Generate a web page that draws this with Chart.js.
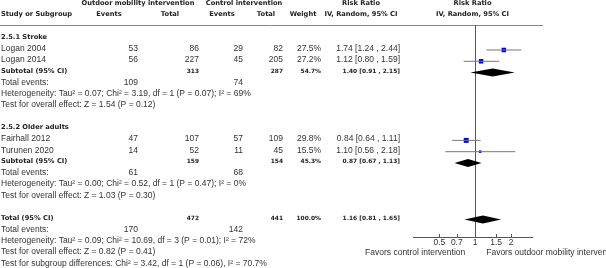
<!DOCTYPE html>
<html>
<head>
<meta charset="utf-8">
<script src="https://cdn.jsdelivr.net/npm/chart.js@4.4.0/dist/chart.umd.min.js"></script>
<style>
  html, body { margin: 0; padding: 0; background: #fff; }
  #wrap { width: 606px; height: 268px; position: relative; }
</style>
</head>
<body>
<div id="wrap"><canvas id="forest"></canvas></div>
<script>
// study level data
const studies = ["Logan 2004", "Logan 2014", "Fairhall 2012", "Turunen 2020"];
const studyRows = [1, 2, 9, 10];
const expEvents = [53, 56, 47, 14];
const expTotal = [86, 227, 107, 52];
const ctlEvents = [29, 45, 57, 11];
const ctlTotal = [82, 205, 109, 45];
const weights = [27.5, 27.2, 29.8, 15.5];
const rr = [1.74, 1.12, 0.84, 1.10];
const rrLow = [1.24, 0.80, 0.64, 0.56];
const rrHigh = [2.44, 1.59, 1.11, 2.18];

// subgroups
const subgroups = ["2.5.1 Stroke", "2.5.2 Older adults"];
const subgroupRows = [0, 8];
const subRows = [3, 11];
const subExpTotal = [313, 159];
const subCtlTotal = [287, 154];
const subExpEvents = [109, 61];
const subCtlEvents = [74, 68];
const subWeight = [54.7, 45.3];
const subRR = [1.40, 0.87];
const subLow = [0.91, 0.67];
const subHigh = [2.15, 1.13];
const subHet = [
  "Heterogeneity: Tau\u00b2 = 0.07; Chi\u00b2 = 3.19, df = 1 (P = 0.07); I\u00b2 = 69%",
  "Heterogeneity: Tau\u00b2 = 0.00; Chi\u00b2 = 0.52, df = 1 (P = 0.47); I\u00b2 = 0%"
];
const subTest = [
  "Test for overall effect: Z = 1.54 (P = 0.12)",
  "Test for overall effect: Z = 1.03 (P = 0.30)"
];

// overall
const totalRow = 16;
const totalExp = 472, totalCtl = 441, totalWeight = 100.0;
const totalRR = 1.16, totalLow = 0.81, totalHigh = 1.65;
const totalExpEvents = 170, totalCtlEvents = 142;
const totalHet = "Heterogeneity: Tau\u00b2 = 0.09; Chi\u00b2 = 10.69, df = 3 (P = 0.01); I\u00b2 = 72%";
const totalTest = "Test for overall effect: Z = 0.82 (P = 0.41)";
const subgroupDiff = "Test for subgroup differences: Chi\u00b2 = 3.42, df = 1 (P = 0.06), I\u00b2 = 70.7%";

const tickVals = [0.5, 0.7, 1, 1.5, 2];
const leftFavors = "Favors control intervention";
const rightFavors = "Favors outdoor mobility intervention";

const REG = '8.5px "Liberation Sans"';
const BOLD = 'bold 6.7px "DejaVu Sans"';
const BOLDNUM = 'bold 5.9px "DejaVu Sans"';
const fmt = v => v.toFixed(2);
const ciText = (e, l, h) => `${fmt(e)} [${fmt(l)} , ${fmt(h)}]`;

const forestPlugin = {
  id: "forest",
  beforeDatasetsDraw(chart) {
    const { ctx, chartArea: ca, scales: { x } } = chart;
    ctx.save();
    ctx.strokeStyle = "#888";
    ctx.lineWidth = 1;
    ctx.beginPath();
    ctx.moveTo(0, ca.top + 0.5);
    ctx.lineTo(543, ca.top + 0.5);
    ctx.stroke();
    // line of no effect
    const x1 = Math.round(x.getPixelForValue(1)) + 0.5;
    ctx.strokeStyle = "#555";
    ctx.beginPath();
    ctx.moveTo(x1, ca.top);
    ctx.lineTo(x1, ca.bottom);
    ctx.stroke();
    ctx.restore();
  },
  afterDatasetsDraw(chart) {
    const { ctx, chartArea: ca, scales: { x, y } } = chart;
    ctx.save();
    const diamond = (e, l, h, row) => {
      const cy = y.getPixelForValue(row);
      ctx.beginPath();
      ctx.moveTo(x.getPixelForValue(l), cy);
      ctx.lineTo(x.getPixelForValue(e), cy - 4);
      ctx.lineTo(x.getPixelForValue(h), cy);
      ctx.lineTo(x.getPixelForValue(e), cy + 4);
      ctx.closePath();
      ctx.fillStyle = "#000";
      ctx.fill();
    };
    subRows.forEach((r, i) => diamond(subRR[i], subLow[i], subHigh[i], r));
    diamond(totalRR, totalLow, totalHigh, totalRow);

    // tick marks above the axis line
    ctx.strokeStyle = "#555";
    ctx.lineWidth = 1;
    tickVals.forEach(v => {
      const px = Math.round(x.getPixelForValue(v)) + 0.5;
      ctx.beginPath();
      ctx.moveTo(px, ca.bottom - 3);
      ctx.lineTo(px, ca.bottom);
      ctx.stroke();
    });
    ctx.restore();
  },
  afterDraw(chart) {
    const { ctx, chartArea: ca, scales: { x, y } } = chart;
    const rowY = r => y.getPixelForValue(r) - 1.5;
    ctx.save();
    ctx.textBaseline = "middle";
    const draw = (s, px, py, align, font, color) => {
      ctx.font = font;
      ctx.fillStyle = color || "#333";
      ctx.textAlign = align;
      ctx.fillText(s, px, py);
    };
    const put = (s, px, row, align, font, color) => draw(s, px, rowY(row), align, font, color);
    const plotMid = (ca.left + ca.right) / 2;

    // headers
    put("Outdoor mobility intervention", 138, -3, "center", BOLD, "#222");
    put("Control intervention", 244, -3, "center", BOLD, "#222");
    put("Risk Ratio", 361, -3, "center", BOLD, "#222");
    put("Risk Ratio", plotMid, -3, "center", BOLD, "#222");
    put("Study or Subgroup", 1, -2, "left", BOLD, "#222");
    put("Events", 109, -2, "center", BOLD, "#222");
    put("Total", 170, -2, "center", BOLD, "#222");
    put("Events", 222, -2, "center", BOLD, "#222");
    put("Total", 266, -2, "center", BOLD, "#222");
    put("Weight", 303, -2, "center", BOLD, "#222");
    put("IV, Random, 95% CI", 361, -2, "center", BOLD, "#222");
    put("IV, Random, 95% CI", plotMid, -2, "center", BOLD, "#222");

    // studies
    studies.forEach((s, i) => {
      const r = studyRows[i];
      put(s, 1, r, "left", REG);
      put(String(expEvents[i]), 138, r, "right", REG);
      put(String(expTotal[i]), 199, r, "right", REG);
      put(String(ctlEvents[i]), 243, r, "right", REG);
      put(String(ctlTotal[i]), 283, r, "right", REG);
      put(weights[i].toFixed(1) + "%", 321, r, "right", REG);
      put(ciText(rr[i], rrLow[i], rrHigh[i]), 400, r, "right", REG);
    });

    // subgroups
    subgroups.forEach((g, i) => {
      const r = subRows[i];
      put(g, 1, subgroupRows[i], "left", BOLD, "#222");
      put("Subtotal (95% CI)", 1, r, "left", BOLD, "#222");
      put(String(subExpTotal[i]), 199, r, "right", BOLDNUM, "#222");
      put(String(subCtlTotal[i]), 283, r, "right", BOLDNUM, "#222");
      put(subWeight[i].toFixed(1) + "%", 321, r, "right", BOLDNUM, "#222");
      put(ciText(subRR[i], subLow[i], subHigh[i]), 400, r, "right", BOLDNUM, "#222");
      put("Total events:", 1, r + 1, "left", REG);
      put(String(subExpEvents[i]), 138, r + 1, "right", REG);
      put(String(subCtlEvents[i]), 243, r + 1, "right", REG);
      put(subHet[i], 1, r + 2, "left", REG);
      put(subTest[i], 1, r + 3, "left", REG);
    });

    // overall
    put("Total (95% CI)", 1, totalRow, "left", BOLD, "#222");
    put(String(totalExp), 199, totalRow, "right", BOLDNUM, "#222");
    put(String(totalCtl), 283, totalRow, "right", BOLDNUM, "#222");
    put(totalWeight.toFixed(1) + "%", 321, totalRow, "right", BOLDNUM, "#222");
    put(ciText(totalRR, totalLow, totalHigh), 400, totalRow, "right", BOLDNUM, "#222");
    put("Total events:", 1, totalRow + 1, "left", REG);
    put(String(totalExpEvents), 138, totalRow + 1, "right", REG);
    put(String(totalCtlEvents), 243, totalRow + 1, "right", REG);
    put(totalHet, 1, totalRow + 2, "left", REG);
    put(totalTest, 1, totalRow + 3, "left", REG);
    put(subgroupDiff, 1, totalRow + 4, "left", REG);

    // favours labels
    const x1 = x.getPixelForValue(1);
    draw(leftFavors, x1 - 10, ca.bottom + 15.5, "right", REG);
    draw(rightFavors, x1 + 11, ca.bottom + 15.5, "left", REG);
    ctx.restore();
  }
};

const ciSets = studies.map((s, i) => ({
  type: "line",
  data: [{ x: rrLow[i], y: studyRows[i] }, { x: rrHigh[i], y: studyRows[i] }],
  borderColor: "#777",
  borderWidth: 1,
  pointRadius: 0,
  clip: false
}));

const squares = {
  type: "scatter",
  data: studies.map((s, i) => ({ x: rr[i], y: studyRows[i] })),
  pointStyle: "rect",
  pointRadius: weights.map(w => w * 0.165 / 1.414),
  backgroundColor: "#0000e6",
  borderWidth: 0
};

new Chart(document.getElementById("forest"), {
  type: "scatter",
  data: { datasets: [...ciSets, squares] },
  options: {
    responsive: true,
    maintainAspectRatio: false,
    animation: false,
    devicePixelRatio: 1,
    layout: { padding: { left: 413, right: 74, top: 25, bottom: 11 } },
    plugins: { legend: { display: false }, tooltip: { enabled: false } },
    scales: {
      x: {
        type: "logarithmic",
        min: 1 / 3,
        max: 3,
        afterBuildTicks: s => { s.ticks = tickVals.map(v => ({ value: v })); },
        afterFit: s => { s.height = 20; },
        grid: { display: false, drawTicks: false, tickLength: 0 },
        border: { display: true, color: "#555", width: 1 },
        ticks: {
          callback: v => String(v),
          font: { family: "Liberation Sans", size: 8.5 },
          color: "#333",
          padding: 1,
          maxRotation: 0,
          autoSkip: false
        }
      },
      y: {
        type: "linear",
        display: false,
        reverse: true,
        min: -1.212,
        max: 17.55
      }
    }
  },
  plugins: [forestPlugin]
});
</script>
</body>
</html>
